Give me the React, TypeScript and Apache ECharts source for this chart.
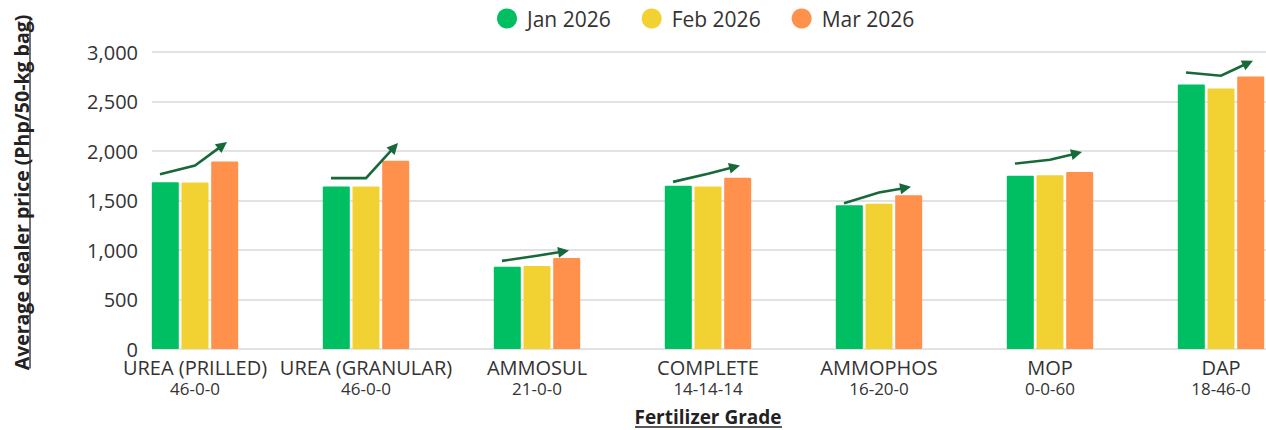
import { useEffect, useRef } from "react";
import * as echarts from "echarts";

const categories = ["UREA (PRILLED)", "UREA (GRANULAR)", "AMMOSUL", "COMPLETE", "AMMOPHOS", "MOP", "DAP"];
const grades = ["46-0-0", "46-0-0", "21-0-0", "14-14-14", "16-20-0", "0-0-60", "18-46-0"];

const jan2026 = [1685, 1641, 832, 1648, 1453, 1749, 2672];
const feb2026 = [1681, 1641, 839, 1641, 1466, 1756, 2632];
const mar2026 = [1894, 1901, 920, 1729, 1554, 1789, 2753];

// trend-arrow annotation levels (start, middle, tip), in price units
const arrowStart = [1766, 1726, 890, 1688, 1473, 1873, 2793];
const arrowMid = [1853, 1726, 942, 1770, 1580, 1911, 2760];
const arrowEnd = [2090, 2080, 994, 1853, 1638, 1989, 2912];

const seriesNames = ["Jan 2026", "Feb 2026", "Mar 2026"];
const yMin = 0;
const yMax = 3000;
const yStep = 500;

const FONT = "'Open Sans', 'Noto Sans', sans-serif";
const ARROW = "#17693b";

export default function App() {
  const ref = useRef<HTMLDivElement>(null);
  useEffect(() => {
    if (!ref.current) return;
    const chart = echarts.init(ref.current, null, { renderer: "svg" });
    const fmt = (v: number) => v.toString().replace(/\B(?=(\d{3})+(?!\d))/g, ",");
    const option: any = {
      animation: false,
      backgroundColor: "#ffffff",
      textStyle: { fontFamily: FONT },
      color: ["#00BF63", "#F2D233", "#FF914D"],
      legend: {
        data: seriesNames,
        left: 492,
        top: 3,
        icon: "circle",
        itemWidth: 30,
        itemHeight: 20,
        itemGap: 31,
        textStyle: { fontSize: 21, color: "#333", fontFamily: FONT },
      },
      grid: [
        { left: 152, width: 1114, top: 52, height: 297 },
        { left: 109.5, width: 1197, top: 52, height: 297 },
      ],
      xAxis: [
        { gridIndex: 0, type: "value", min: 0, max: 1, show: false },
        {
          gridIndex: 1,
          type: "category",
          data: categories,
          axisLine: { show: false },
          axisTick: { show: false },
          splitLine: { show: false },
          axisLabel: {
            margin: 7,
            interval: 0,
            formatter: (v: string, i: number) => `{a|${v}}\n{b|${grades[i]}}`,
            rich: {
              a: { fontSize: 20, lineHeight: 22, color: "#333", fontFamily: FONT },
              b: { fontSize: 17, lineHeight: 20, color: "#333", fontFamily: FONT },
            },
          },
        },
      ],
      yAxis: [
        {
          gridIndex: 0,
          type: "value",
          min: yMin,
          max: yMax,
          interval: yStep,
          axisLine: { show: false },
          axisTick: { show: false },
          splitLine: { lineStyle: { color: "#d9d9d9", width: 1.5 } },
          axisLabel: { margin: 14, fontSize: 20, color: "#333", fontFamily: FONT, formatter: fmt },
        },
        {
          gridIndex: 1,
          type: "value",
          min: yMin,
          max: yMax,
          interval: yStep,
          show: false,
          splitLine: { show: false },
        },
      ],
      series: [
        ...[jan2026, feb2026, mar2026].map((d, k) => ({
          name: seriesNames[k],
          type: "bar",
          xAxisIndex: 1,
          yAxisIndex: 1,
          data: d,
          barWidth: 27,
          barGap: "10%",
          itemStyle: { borderRadius: 1 },
        })),
        {
          type: "custom",
          xAxisIndex: 1,
          yAxisIndex: 1,
          silent: true,
          z: 5,
          encode: { x: 0, y: [1, 2, 3] },
          data: categories.map((_, i) => [i, arrowStart[i], arrowMid[i], arrowEnd[i]]),
          renderItem: (_p: any, api: any) => {
            const i = api.value(0);
            const p0 = api.coord([i, api.value(1)]);
            const p1 = api.coord([i, api.value(2)]);
            const p2 = api.coord([i, api.value(3)]);
            const a = [p0[0] - 35, p0[1]];
            const b = [p1[0], p1[1]];
            const c = [p2[0] + 32, p2[1]];
            const dx = c[0] - b[0];
            const dy = c[1] - b[1];
            const len = Math.hypot(dx, dy) || 1;
            const ux = dx / len;
            const uy = dy / len;
            const L = 11;
            const W = 5.5;
            const base = [c[0] - ux * L, c[1] - uy * L];
            const left = [base[0] - uy * W, base[1] + ux * W];
            const right = [base[0] + uy * W, base[1] - ux * W];
            return {
              type: "group",
              children: [
                {
                  type: "polyline",
                  shape: { points: [a, b, [base[0] + ux * 2, base[1] + uy * 2]] },
                  style: { stroke: ARROW, lineWidth: 2.6, fill: null },
                },
                {
                  type: "polygon",
                  shape: { points: [c, left, right] },
                  style: { fill: ARROW },
                },
              ],
            };
          },
        },
      ],
      graphic: [
        {
          type: "text",
          x: 708,
          y: 417,
          style: {
            text: "Fertilizer Grade",
            font: `bold 19px ${FONT}`,
            fill: "#222",
            align: "center",
            verticalAlign: "middle",
          },
        },
        {
          type: "line",
          shape: { x1: 635, y1: 427, x2: 782, y2: 427 },
          style: { stroke: "#222", lineWidth: 1.3 },
        },
        {
          type: "group",
          x: 21,
          y: 192.5,
          rotation: Math.PI / 2,
          children: [
            {
              type: "text",
              x: 0,
              y: 0,
              style: {
                text: "Average dealer price (Php/50-kg bag)",
                font: `bold 19.5px ${FONT}`,
                fill: "#222",
                align: "center",
                verticalAlign: "middle",
              },
            },
            {
              type: "line",
              shape: { x1: -176, y1: 9, x2: 176, y2: 9 },
              style: { stroke: "#222", lineWidth: 1.3 },
            },
          ],
        },
      ],
    };
    chart.setOption(option);
    return () => chart.dispose();
  }, []);
  return (
    <div
      style={{ position: "absolute", left: 0, top: 0, width: 1266, height: 430, overflow: "hidden" }}
    >
      <div ref={ref} style={{ width: 1310, height: 430 }} />
    </div>
  );
}
